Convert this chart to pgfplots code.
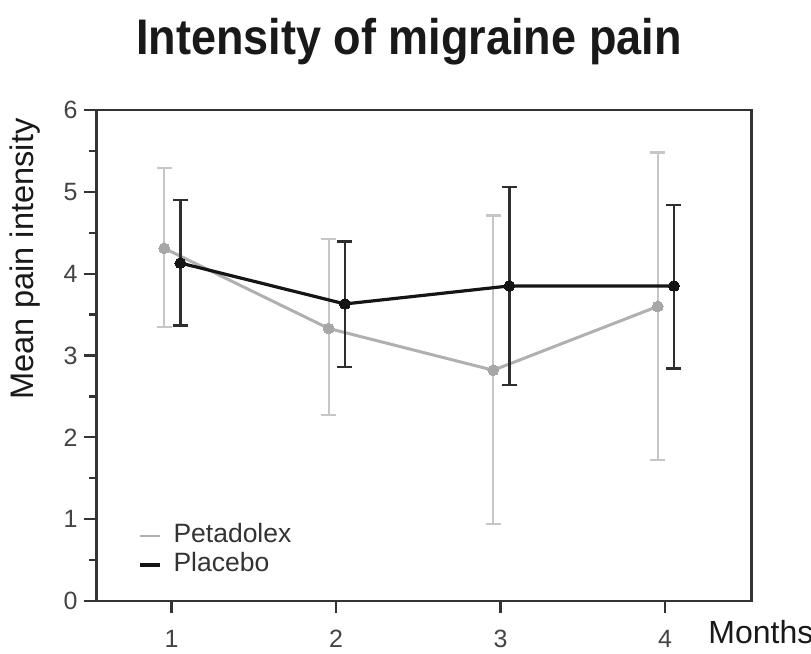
\documentclass[border=0pt]{standalone}
\usepackage{pgfplots}
\pgfplotsset{compat=1.18}
\usepackage{pgfplotstable}
\usepackage{fontspec}
\setmainfont{Liberation Sans}
\newfontfamily\titlefont[FakeStretch=0.9]{Liberation Sans}
\definecolor{petcol}{HTML}{B0B0B0}
\definecolor{peterr}{HTML}{C6C6C6}
\definecolor{placol}{HTML}{151515}
\definecolor{plaerr}{HTML}{2E2E2E}
\definecolor{axcol}{HTML}{333333}
\definecolor{tickcol}{HTML}{444444}

% x = month (slightly offset), y = mean, ep/em = upper/lower error
\pgfplotstableread{
x     y    ep   em
0.956 4.31 0.98 0.96
1.956 3.33 1.09 1.06
2.956 2.82 1.89 1.88
3.956 3.60 1.88 1.88
}\petadolex
\pgfplotstableread{
x     y    ep   em
1.054 4.13 0.77 0.76
2.054 3.63 0.76 0.77
3.054 3.85 1.21 1.21
4.054 3.85 0.99 1.01
}\placebo

\begin{document}
\begin{tikzpicture}
\path[use as bounding box] (-48.25pt,-26.5pt) rectangle (357.25pt,300.5pt);
\begin{axis}[
  name=ax, at={(0,0)}, anchor=south west,
  scale only axis, width=327.6pt, height=245.5pt,
  xmin=0.544, xmax=4.527, ymin=0, ymax=6,
  xtick={1,2,3,4}, ytick={0,1,2,3,4,5,6}, minor y tick num=1,
  tick align=outside, tick pos=left,
  major tick length=6pt, minor tick length=3.5pt,
  axis line style={axcol, line width=1.2pt},
  every tick/.style={axcol, line width=1.1pt},
  tick label style={font=\fontsize{12.5}{14}\selectfont, text=tickcol},
  xticklabel style={yshift=-5pt},
  /pgf/number format/assume math mode=true,
  legend style={at={(0.0626,0.047)}, anchor=south west, draw=none, fill=none,
    inner sep=0pt, outer sep=0pt, font=\fontsize{13.25}{15}\selectfont, text=axcol,
    row sep=2pt, column sep=6pt,
    nodes={inner sep=0pt, text height=9.6pt, text depth=3pt}},
  legend cell align=left,
  legend image code/.code={\draw[#1] (-1.5pt,0pt) -- (8.5pt,0pt);},
]
\addlegendimage{petcol, line width=1pt}
\addlegendentry{Petadolex}
\addlegendimage{placol, line width=2pt}
\addlegendentry{Placebo}

\addplot[forget plot, petcol, line width=1.5pt, mark=*, mark size=2.7pt,
  mark options={fill=petcol!95!black, draw=petcol!95!black, line width=0pt},
  error bars/.cd, y dir=both, y explicit,
  error bar style={peterr, line width=1.2pt},
  error mark options={rotate=90, peterr, line width=1.2pt, mark size=3.75pt}]
  table[x=x, y=y, y error plus=ep, y error minus=em] {\petadolex};

\addplot[forget plot, placol, line width=1.6pt, mark=*, mark size=2.7pt,
  mark options={fill=placol, draw=placol, line width=0pt},
  error bars/.cd, y dir=both, y explicit,
  error bar style={plaerr, line width=1.3pt},
  error mark options={rotate=90, plaerr, line width=1.3pt, mark size=3.75pt}]
  table[x=x, y=y, y error plus=ep, y error minus=em] {\placebo};
\end{axis}
\node[anchor=base, inner sep=0pt, font=\titlefont\fontsize{25}{30}\selectfont\bfseries, text=black!90] at (156.25pt,273pt) {Intensity of migraine pain};
\node[rotate=90, anchor=base, inner sep=0pt, font=\fontsize{16.3}{19}\selectfont, text=black!90] at (-31.25pt,171pt) {Mean pain intensity};
\node[anchor=base west, inner sep=0pt, font=\fontsize{16}{19}\selectfont, text=black!90] at (305.75pt,-21.5pt) {Months};
\end{tikzpicture}
\end{document}
